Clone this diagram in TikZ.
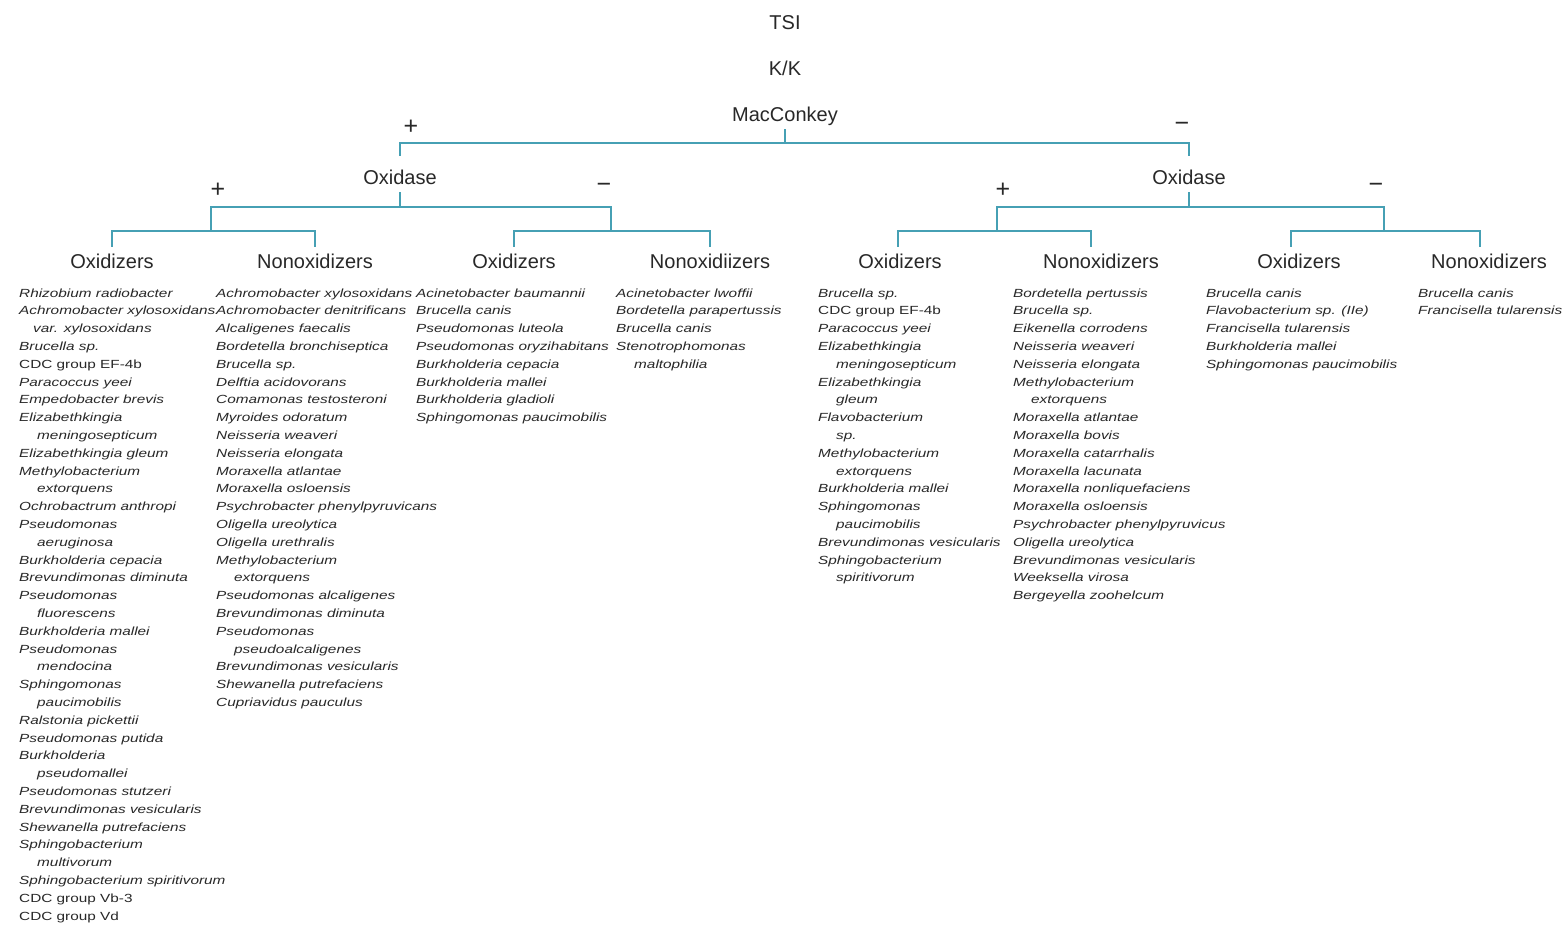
\documentclass[tikz,border=0pt]{standalone}
\usepackage{fontspec}
\setmainfont{Liberation Sans}
\newfontfamily\spf[FakeStretch=1.3]{Liberation Sans}
\definecolor{linec}{RGB}{70,160,180}
\definecolor{txtc}{RGB}{40,40,40}
\newcommand{\ind}{\hspace*{18pt}}
\newcommand{\rom}[1]{{\upshape #1}}
\begin{document}
\begin{tikzpicture}[x=1pt,y=-1pt,
  tl/.style={font=\fontsize{20}{24}\selectfont, text=txtc, inner sep=3pt, text depth=5pt, text height=15pt, anchor=base},
  hd/.style={tl, text height=18pt},
  ox/.style={tl, text height=25pt},
  sgn/.style={font=\fontsize{25}{28}\selectfont, text=txtc, inner sep=0pt},
  spc/.style={font=\spf\itshape\fontsize{11.8}{17.8}\selectfont, text=txtc, inner sep=0pt, anchor=base west},
  link/.style={draw=linec, line width=1.4pt}]
\useasboundingbox[fill=white] (0,0) rectangle (1565,924);

% top labels
\node[tl] (tsi) at (785,29) {TSI};
\node[tl] (kk) at (785,75) {K/K};
\node[tl] (mac) at (785,121) {MacConkey};
\node[ox] (oxl) at (400,184) {Oxidase};
\node[ox] (oxr) at (1189,184) {Oxidase};

% signs
\node[sgn] (p1) at (411,127) {+};
\node[sgn] (m1) at (1182,127) {−};
\node[sgn] (p2) at (218,190) {+};
\node[sgn] (m2) at (604,188) {−};
\node[sgn] (p3) at (1003,190) {+};
\node[sgn] (m3) at (1376,188) {−};

% column headers
\node[hd] (h1) at (112,268) {Oxidizers};
\node[hd] (h2) at (315,268) {Nonoxidizers};
\node[hd] (h3) at (514,268) {Oxidizers};
\node[hd] (h4) at (710,268) {Nonoxidiizers};
\node[hd] (h5) at (900,268) {Oxidizers};
\node[hd] (h6) at (1101,268) {Nonoxidizers};
\node[hd] (h7) at (1299,268) {Oxidizers};
\node[hd] (h8) at (1489,268) {Nonoxidizers};

% junctions
\coordinate (j0) at (785,143);
\coordinate (j1) at (400,207);
\coordinate (j2) at (1189,207);
\coordinate (gA) at (211,231);
\coordinate (gB) at (611,231);
\coordinate (gC) at (997,231);
\coordinate (gD) at (1384,231);

\draw[link] (mac.south) -- (j0);
\draw[link] (oxl.north) -- (oxl.north |- j0) -- (oxr.north |- j0) -- (oxr.north);
\draw[link] (oxl.south) -- (j1);
\draw[link] (oxr.south) -- (j2);
\draw[link] (gA) -- (gA |- j1) -- (gB |- j1) -- (gB);
\draw[link] (gC) -- (gC |- j2) -- (gD |- j2) -- (gD);
\draw[link] (h1.north) -- (h1.north |- gA) -- (h2.north |- gA) -- (h2.north);
\draw[link] (h3.north) -- (h3.north |- gB) -- (h4.north |- gB) -- (h4.north);
\draw[link] ([xshift=-2pt]h5.north) -- ([xshift=-2pt]h5.north |- gC) -- ([xshift=-10pt]h6.north |- gC) -- ([xshift=-10pt]h6.north);
\draw[link] ([xshift=-8pt]h7.north) -- ([xshift=-8pt]h7.north |- gD) -- ([xshift=-9pt]h8.north |- gD) -- ([xshift=-9pt]h8.north);

% species lists
\node[spc] (c1) at (19,297) {\begin{tabular}[t]{@{}l@{}}
Rhizobium radiobacter\\
Achromobacter xylosoxidans\\
\hspace*{14pt}var. xylosoxidans\\
Brucella sp.\\
\rom{CDC group EF-4b}\\
Paracoccus yeei\\
Empedobacter brevis\\
Elizabethkingia\\
\ind meningosepticum\\
Elizabethkingia gleum\\
Methylobacterium\\
\ind extorquens\\
Ochrobactrum anthropi\\
Pseudomonas\\
\ind aeruginosa\\
Burkholderia cepacia\\
Brevundimonas diminuta\\
Pseudomonas\\
\ind fluorescens\\
Burkholderia mallei\\
Pseudomonas\\
\ind mendocina\\
Sphingomonas\\
\ind paucimobilis\\
Ralstonia pickettii\\
Pseudomonas putida\\
Burkholderia\\
\ind pseudomallei\\
Pseudomonas stutzeri\\
Brevundimonas vesicularis\\
Shewanella putrefaciens\\
Sphingobacterium\\
\ind multivorum\\
Sphingobacterium spiritivorum\\
\rom{CDC group Vb-3}\\
\rom{CDC group Vd}
\end{tabular}};

\node[spc] (c2) at (216,297) {\begin{tabular}[t]{@{}l@{}}
Achromobacter xylosoxidans\\
Achromobacter denitrificans\\
Alcaligenes faecalis\\
Bordetella bronchiseptica\\
Brucella sp.\\
Delftia acidovorans\\
Comamonas testosteroni\\
Myroides odoratum\\
Neisseria weaveri\\
Neisseria elongata\\
Moraxella atlantae\\
Moraxella osloensis\\
Psychrobacter phenylpyruvicans\\
Oligella ureolytica\\
Oligella urethralis\\
Methylobacterium\\
\ind extorquens\\
Pseudomonas alcaligenes\\
Brevundimonas diminuta\\
Pseudomonas\\
\ind pseudoalcaligenes\\
Brevundimonas vesicularis\\
Shewanella putrefaciens\\
Cupriavidus pauculus
\end{tabular}};

\node[spc] (c3) at (416,297) {\begin{tabular}[t]{@{}l@{}}
Acinetobacter baumannii\\
Brucella canis\\
Pseudomonas luteola\\
Pseudomonas oryzihabitans\\
Burkholderia cepacia\\
Burkholderia mallei\\
Burkholderia gladioli\\
Sphingomonas paucimobilis
\end{tabular}};

\node[spc] (c4) at (616,297) {\begin{tabular}[t]{@{}l@{}}
Acinetobacter lwoffii\\
Bordetella parapertussis\\
Brucella canis\\
Stenotrophomonas\\
\ind maltophilia
\end{tabular}};

\node[spc] (c5) at (818,297) {\begin{tabular}[t]{@{}l@{}}
Brucella sp.\\
\rom{CDC group EF-4b}\\
Paracoccus yeei\\
Elizabethkingia\\
\ind meningosepticum\\
Elizabethkingia\\
\ind gleum\\
Flavobacterium\\
\ind sp.\\
Methylobacterium\\
\ind extorquens\\
Burkholderia mallei\\
Sphingomonas\\
\ind paucimobilis\\
Brevundimonas vesicularis\\
Sphingobacterium\\
\ind spiritivorum
\end{tabular}};

\node[spc] (c6) at (1013,297) {\begin{tabular}[t]{@{}l@{}}
Bordetella pertussis\\
Brucella sp.\\
Eikenella corrodens\\
Neisseria weaveri\\
Neisseria elongata\\
Methylobacterium\\
\ind extorquens\\
Moraxella atlantae\\
Moraxella bovis\\
Moraxella catarrhalis\\
Moraxella lacunata\\
Moraxella nonliquefaciens\\
Moraxella osloensis\\
Psychrobacter phenylpyruvicus\\
Oligella ureolytica\\
Brevundimonas vesicularis\\
Weeksella virosa\\
Bergeyella zoohelcum
\end{tabular}};

\node[spc] (c7) at (1206,297) {\begin{tabular}[t]{@{}l@{}}
Brucella canis\\
Flavobacterium sp. (IIe)\\
Francisella tularensis\\
Burkholderia mallei\\
Sphingomonas paucimobilis
\end{tabular}};

\node[spc] (c8) at (1418,297) {\begin{tabular}[t]{@{}l@{}}
Brucella canis\\
Francisella tularensis
\end{tabular}};
\end{tikzpicture}
\end{document}
